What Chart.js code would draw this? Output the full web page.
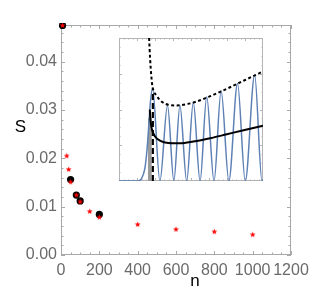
<!DOCTYPE html>
<html>
<head>
<meta charset="utf-8">
<script src="https://cdn.jsdelivr.net/npm/chart.js@4.4.1/dist/chart.umd.min.js"></script>
<style>
  html, body { margin: 0; padding: 0; background: #fff; }
  #wrap { position: relative; width: 317px; height: 299px; }
  #main { position: absolute; left: 0; top: 0; }
  #inset { position: absolute; left: 119px; top: 38px; background: #fff; }
</style>
</head>
<body>
<div id="wrap">
  <canvas id="main" width="317" height="299"></canvas>
  <canvas id="inset" width="144" height="143"></canvas>
</div>
<script>
// main plot: black dots and red stars
const dotN = [8, 50, 80, 100, 200];
const dotS = [0.0475, 0.0156, 0.0124, 0.0112, 0.0084];
const starN = [8, 30, 40, 50, 80, 100, 150, 200, 400, 600, 800, 1000];
const starS = [0.0475, 0.0205, 0.0177, 0.0151, 0.0124, 0.011, 0.009, 0.0078, 0.0063, 0.0053, 0.0048, 0.0042];
const xTickLabels = [0, 200, 400, 600, 800, 1000, 1200];
const yTickLabels = [0, 0.01, 0.02, 0.03, 0.04];
const xMax = 1200, yMax = 0.0476;

// inset curves (inset units 0..100 on both axes)
const blueX = [0, 13, 15.5, 17.9, 19.5, 20.7, 21.6, 23.3, 28.4, 33.7, 38.1, 42.3, 47, 51.6, 56.3, 60.9, 66, 70.9, 76.3, 82.3, 87.7, 94.2, 99.3, 100];
const blueY = [0, 0, 1.5, 8.4, 22.4, 38.8, 52.8, 65, 0, 52.8, 0, 52.8, 0, 55.1, 0, 58.9, 0, 63.1, 0, 68.2, 0, 74.1, 0, 1];
const envX = [20.9, 21.6, 22.6, 23.3, 26, 29.5, 34.2, 40, 47, 54, 63.3, 74.9, 86.5, 100];
const envY = [100, 85.5, 71.5, 65.7, 59.8, 55.6, 53.3, 52.8, 53.7, 55.6, 59.3, 64.5, 70.1, 76.6];
const avgX = [21.4, 21.9, 22.8, 24.9, 28.4, 34.2, 42.3, 51.6, 63.3, 74.9, 86.5, 100];
const avgY = [50, 42.3, 36.4, 31.3, 28.3, 26.6, 26.4, 27.6, 29.9, 32.7, 35.5, 38.6];
const greyX = [20, 22.8];
const greyY = [44, 44];
const markX = [23.5, 23.5];
const markY = [0, 63];

const font = '"Liberation Sans", Arial, sans-serif';
const tickColor = '#6a6a6a';
const frameColor = '#a8a8a8';

const pts = (xs, ys) => xs.map((x, i) => ({ x: x, y: ys[i] }));

// small filled red star used as point style
function makeStar(r, color) {
  const c = document.createElement('canvas');
  c.width = c.height = Math.ceil(r * 2 + 1);
  const g = c.getContext('2d');
  const cx = c.width / 2, cy = c.height / 2;
  g.beginPath();
  for (let i = 0; i < 10; i++) {
    const rad = i % 2 === 0 ? r : r * 0.45;
    const a = -Math.PI / 2 + i * Math.PI / 5;
    g.lineTo(cx + rad * Math.cos(a), cy + rad * Math.sin(a));
  }
  g.closePath();
  g.fillStyle = color;
  g.fill();
  return c;
}
const starImg = makeStar(3, '#ff0000');

function tickLine(ctx, x1, y1, x2, y2) {
  ctx.beginPath();
  ctx.moveTo(x1, y1);
  ctx.lineTo(x2, y2);
  ctx.stroke();
}

// frame with inward ticks on all four sides, like a Mathematica Frame
function drawFrame(chart, xs, ys, xMajor, yMajor, major, minor, color) {
  const { ctx, chartArea: a, scales: { x, y } } = chart;
  ctx.save();
  ctx.strokeStyle = color;
  ctx.lineWidth = 1;
  ctx.strokeRect(a.left + 0.5, a.top + 0.5, a.width - 1, a.height - 1);
  xs.forEach(v => {
    const px = Math.round(x.getPixelForValue(v)) + 0.5;
    const len = xMajor(v) ? major : minor;
    tickLine(ctx, px, a.bottom, px, a.bottom - len);
    tickLine(ctx, px, a.top, px, a.top + len);
  });
  ys.forEach(v => {
    const py = Math.round(y.getPixelForValue(v)) + 0.5;
    const len = yMajor(v) ? major : minor;
    tickLine(ctx, a.left, py, a.left + len, py);
    tickLine(ctx, a.right, py, a.right - len, py);
  });
  ctx.restore();
}

const xMinor = [];
for (let v = 0; v <= xMax; v += 50) xMinor.push(v);
const yMinor = [];
for (let i = 0; i * 0.002 <= yMax; i++) yMinor.push(+(i * 0.002).toFixed(3));

const mainFrame = {
  id: 'mainFrame',
  beforeDatasetsDraw(chart) {
    drawFrame(chart, xMinor, yMinor,
      v => v % 200 === 0, v => Math.abs(v * 100 - Math.round(v * 100)) < 1e-6,
      4, 2.5, frameColor);
    const ctx = chart.ctx;
    ctx.save();
    ctx.fillStyle = '#000';
    ctx.font = '17px ' + font;
    ctx.textAlign = 'center';
    ctx.textBaseline = 'alphabetic';
    ctx.fillText('S', 20.5, 131.5);
    ctx.fillText('n', 195, 286);
    ctx.restore();
  }
};

const pointClip = { left: 6, right: 6, top: 2, bottom: 6 };

new Chart(document.getElementById('main'), {
  type: 'scatter',
  data: {
    datasets: [
      {
        data: pts(starN, starS),
        pointStyle: starImg,
        pointRadius: 3,
        clip: pointClip
      },
      {
        data: pts(dotN, dotS),
        pointStyle: 'circle',
        pointRadius: 3.6,
        backgroundColor: '#000',
        borderColor: '#000',
        borderWidth: 0,
        clip: pointClip
      }
    ]
  },
  options: {
    responsive: false,
    animation: false,
    layout: { padding: { left: 0, top: 25, right: 26, bottom: 0 } },
    plugins: { legend: { display: false }, tooltip: { enabled: false } },
    scales: {
      x: {
        type: 'linear', min: 0, max: xMax,
        grid: { display: false, drawTicks: false },
        border: { display: false },
        afterBuildTicks: s => { s.ticks = xTickLabels.map(v => ({ value: v })); },
        afterFit: s => { s.height = 44; },
        ticks: {
          padding: 6, color: tickColor, autoSkip: false, maxRotation: 0,
          font: { family: font, size: 16 },
          callback: v => String(v)
        }
      },
      y: {
        type: 'linear', min: 0, max: yMax,
        grid: { display: false, drawTicks: false },
        border: { display: false },
        afterBuildTicks: s => { s.ticks = yTickLabels.map(v => ({ value: v })); },
        afterFit: s => { s.width = 61; },
        ticks: {
          padding: 4, color: tickColor, autoSkip: false,
          font: { family: font, size: 16 },
          callback: v => Number(v).toFixed(2)
        }
      }
    }
  },
  plugins: [mainFrame]
});

// inset
const insetTicksX = [];
for (let i = 0; i <= 32; i++) insetTicksX.push(i * 100 / 32);
const insetTicksY = [];
for (let i = 0; i <= 16; i++) insetTicksY.push(i * 100 / 16);

const insetFrame = {
  id: 'insetFrame',
  beforeDatasetsDraw(chart) {
    drawFrame(chart, insetTicksX, insetTicksY,
      v => Math.abs(v % 12.5) < 1e-6, v => Math.abs(v % 25) < 1e-6,
      3, 1.5, '#b4b4b4');
  }
};

const lineBase = { showLine: true, pointRadius: 0, fill: false };

new Chart(document.getElementById('inset'), {
  type: 'scatter',
  data: {
    datasets: [
      Object.assign({}, lineBase, {
        data: pts(markX, markY), borderColor: '#000', borderWidth: 2.2, borderDash: [6, 3]
      }),
      Object.assign({}, lineBase, {
        data: pts(envX, envY), borderColor: '#000', borderWidth: 2, borderDash: [3, 2.5],
        cubicInterpolationMode: 'monotone'
      }),
      Object.assign({}, lineBase, {
        data: pts(avgX, avgY), borderColor: '#000', borderWidth: 2,
        cubicInterpolationMode: 'monotone'
      }),
      Object.assign({}, lineBase, {
        data: pts(blueX, blueY), borderColor: '#5E81B5', borderWidth: 1.5,
        cubicInterpolationMode: 'monotone'
      }),
      Object.assign({}, lineBase, {
        data: pts(greyX, greyY), borderWidth: 0, borderColor: 'rgba(0,0,0,0)',
        backgroundColor: '#9a9a9a', fill: 'origin'
      })
    ]
  },
  options: {
    responsive: false,
    animation: false,
    layout: { padding: 0 },
    plugins: { legend: { display: false }, tooltip: { enabled: false } },
    scales: {
      x: { type: 'linear', min: 0, max: 100, display: false },
      y: { type: 'linear', min: 0, max: 100, display: false }
    }
  },
  plugins: [insetFrame]
});
</script>
</body>
</html>
